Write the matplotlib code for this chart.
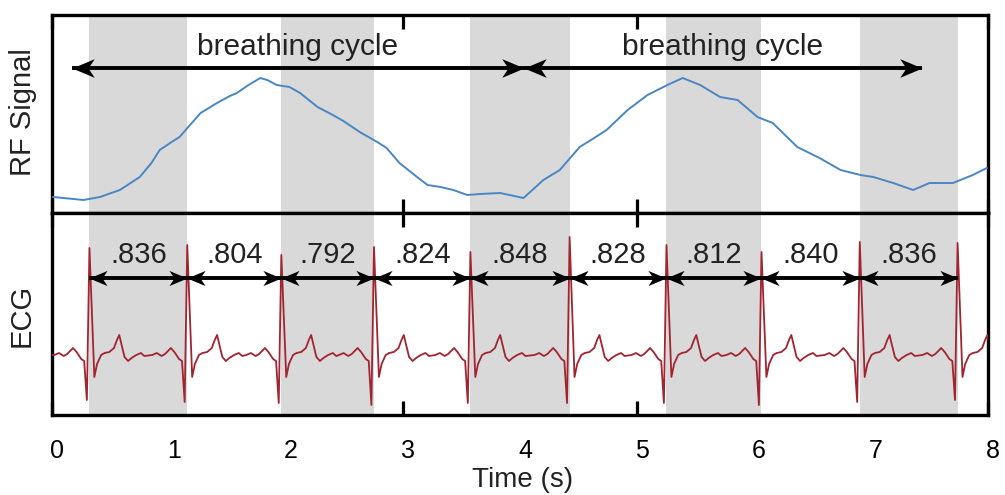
import matplotlib
matplotlib.use('Agg')
import matplotlib.pyplot as plt
import numpy as np
from matplotlib.path import Path
from matplotlib.transforms import ScaledTranslation

plt.rcParams['font.family'] = ['Liberation Sans', 'DejaVu Sans']

# ---------------- data ----------------
rf_time = [0.01, 0.27, 0.41, 0.58, 0.75, 0.85, 0.92, 1.01, 1.09, 1.18, 1.27, 1.41,
           1.52, 1.58, 1.68, 1.78, 1.84, 1.92, 2.03, 2.12, 2.27, 2.40, 2.49, 2.63,
           2.78, 2.86, 2.97, 3.12, 3.21, 3.32, 3.43, 3.55, 3.66, 3.83, 3.95, 4.03,
           4.20, 4.34, 4.51, 4.62, 4.74, 4.92, 5.09, 5.26, 5.39, 5.54, 5.71, 5.86,
           6.03, 6.16, 6.37, 6.56, 6.74, 6.91, 7.02, 7.19, 7.36, 7.50, 7.70, 7.87, 7.99]
rf_value = [0.16, 0.13, 0.16, 0.23, 0.36, 0.50, 0.63, 0.70, 0.76, 0.88, 1.00, 1.10,
            1.17, 1.20, 1.28, 1.35, 1.33, 1.28, 1.26, 1.20, 1.06, 0.98, 0.92, 0.81,
            0.71, 0.65, 0.50, 0.36, 0.28, 0.26, 0.23, 0.18, 0.19, 0.20, 0.17, 0.15,
            0.33, 0.43, 0.66, 0.74, 0.83, 1.03, 1.18, 1.28, 1.35, 1.28, 1.16, 1.13,
            0.96, 0.90, 0.66, 0.55, 0.43, 0.38, 0.36, 0.30, 0.23, 0.30, 0.30, 0.38, 0.45]

breath_bounds = [0.17, 4.03, 7.44]
breath_label = 'breathing cycle'

first_r = 0.32
rr_intervals = [0.836, 0.804, 0.792, 0.824, 0.848, 0.828, 0.812, 0.840, 0.836]
rr_labels = ['.836', '.804', '.792', '.824', '.848', '.828', '.812', '.840', '.836']
r_height = [1.07, 1.10, 1.00, 1.08, 1.03, 1.18, 1.10, 1.03, 1.13, 1.12]
q_depth = [-0.45, -0.47, -0.48, -0.50, -0.48, -0.48, -0.48, -0.50, -0.47, -0.45]

# one ECG beat (seconds relative to the R peak)
pre_offsets = [-0.30, -0.26, -0.22, -0.19, -0.14, -0.11, -0.07, -0.045]
pre_values = [0.00, 0.02, -0.01, 0.01, 0.07, 0.03, -0.04, -0.06]
q_offset = -0.022
post_offsets = [0.042, 0.065, 0.10, 0.13, 0.17, 0.21, 0.235, 0.255, 0.275, 0.30,
                0.33, 0.36, 0.40, 0.44, 0.47]
post_values = [-0.22, -0.09, 0.00, 0.02, 0.03, 0.07, 0.15, 0.20, 0.10, -0.02,
               -0.06, -0.03, 0.00, 0.02, -0.01]

# ---------------- derived ----------------
r_times = np.concatenate([[first_r], first_r + np.cumsum(rr_intervals)])

ecg_t = [0.0]
ecg_v = [0.0]
for i, r in enumerate(r_times):
    for o, v in zip(pre_offsets, pre_values):
        ecg_t.append(r + o); ecg_v.append(v)
    ecg_t.append(r + q_offset); ecg_v.append(q_depth[i])
    ecg_t.append(r); ecg_v.append(r_height[i])
    for o, v in zip(post_offsets, post_values):
        ecg_t.append(r + o); ecg_v.append(v)
order = np.argsort(ecg_t)
ecg_t = np.array(ecg_t)[order]
ecg_v = np.array(ecg_v)[order]
mask = ecg_t >= 0
ecg_t, ecg_v = ecg_t[mask], ecg_v[mask]

# ---------------- figure ----------------
W, H = 1005, 495
fig = plt.figure(figsize=(W / 100, H / 100), dpi=100)
left, right = 52 / W, 988 / W
ax1 = fig.add_axes([left, 1 - 213 / H, right - left, (213 - 15) / H])
ax2 = fig.add_axes([left, 1 - 415 / H, right - left, (415 - 213) / H])

gray = '#d9d9d9'
blue = '#4a86c4'
red = '#a12430'

head_r = Path([(0, 0), (-1, 0.42), (-0.72, 0), (-1, -0.42), (0, 0)],
              [Path.MOVETO, Path.LINETO, Path.LINETO, Path.LINETO, Path.CLOSEPOLY])
head_l = Path([(0, 0), (1, 0.42), (0.72, 0), (1, -0.42), (0, 0)],
              [Path.MOVETO, Path.LINETO, Path.LINETO, Path.LINETO, Path.CLOSEPOLY])


def dbl_arrow(ax, x0, x1, y, ms, lw):
    ax.plot([x0, x1], [y, y], color='black', lw=lw, solid_capstyle='butt', zorder=4)
    ax.plot([x1], [y], marker=head_r, ms=ms, color='black', mew=0, zorder=5)
    ax.plot([x0], [y], marker=head_l, ms=ms, color='black', mew=0, zorder=5)


for ax in (ax1, ax2):
    ax.set_xlim(0, 8)
    ax.set_axisbelow(True)
    for k in range(0, len(r_times) - 1, 2):
        ax.axvspan(r_times[k], r_times[k + 1], color=gray, lw=0, zorder=1)
    ax.set_xticks(range(0, 9))
    ax.set_yticks([])
    ax.tick_params(axis='x', direction='in', top=True, bottom=True, length=10,
                   width=2.3, labelsize=18, pad=17)
    for s in ax.spines.values():
        s.set_linewidth(2.4)

ax1.tick_params(axis='x', labelbottom=False)

# top panel
ax1.set_ylim(0, 1.98)
ax1.plot(rf_time, rf_value, color=blue, lw=1.4, zorder=3)
for a, b in zip(breath_bounds[:-1], breath_bounds[1:]):
    dbl_arrow(ax1, a, b, 1.45, 32, 2.8)
    ax1.text((a + b) / 2, 1.58, breath_label, ha='center', va='baseline',
             fontsize=21.5, color='#222222', zorder=6)

# bottom panel
ax2.set_ylim(-0.60, 1.42)
ax2.plot(ecg_t, ecg_v, color=red, lw=1.3, zorder=3)
for i in range(len(rr_intervals)):
    a, b = r_times[i], r_times[i + 1]
    dbl_arrow(ax2, a, b, 0.77, 26, 2.8)
    ax2.text((a + b) / 2, 0.92, rr_labels[i], ha='center', va='baseline',
             fontsize=21, color='#222222', zorder=6)

offset = ScaledTranslation(5 / 100, 0, fig.dpi_scale_trans)
for lab in ax2.get_xticklabels():
    lab.set_transform(lab.get_transform() + offset)

fig.text(23 / W, 1 - 112 / H, 'RF Signal', rotation=90, ha='center', va='center',
         fontsize=21, color='#222222')
fig.text(22 / W, 1 - 315 / H, 'ECG', rotation=90, ha='center', va='center',
         fontsize=21, color='#222222')
fig.text(523 / W, 1 - 480 / H, 'Time (s)', ha='center', va='center',
         fontsize=20, color='#222222')

fig.savefig('out.png', dpi=100)
